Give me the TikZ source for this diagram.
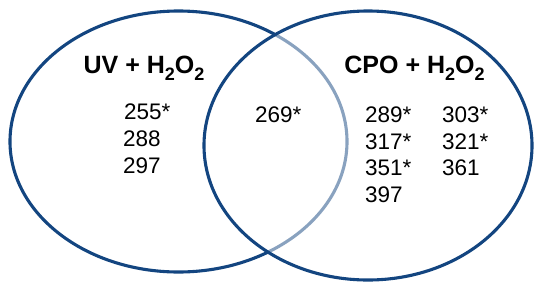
\documentclass[tikz,border=0pt]{standalone}
\usepackage{fontspec}
\setmainfont{Liberation Sans}
\usetikzlibrary{shapes.geometric}
\definecolor{vennblue}{HTML}{134580}
\newcommand{\lowsub}[1]{\raisebox{-0.28em}{\fontsize{0.72em}{0.72em}\selectfont #1}}
\tikzset{
  setring/.style={ellipse, draw=vennblue, line width=3.1bp, inner sep=0pt},
  title/.style={anchor=base, font=\fontsize{25bp}{25bp}\selectfont\bfseries, inner sep=0pt},
  num/.style={anchor=base west, font=\fontsize{22.5bp}{22.5bp}\selectfont, inner sep=0pt, align=left},
}
\begin{document}
\begin{tikzpicture}[x=1bp,y=-1bp]
\useasboundingbox (0,0) rectangle (550,285);
\node[setring, minimum width=337bp, minimum height=261bp] (uv) at (178.5,141.5) {};
\node[setring, fill=white, fill opacity=0.5, minimum width=328bp, minimum height=269bp] (cpo) at (368,145.5) {};
\node[title] (uvt) at (144,73) {UV + H\lowsub{2}O\lowsub{2}};
\node[title] (cpot) at (414.5,73) {CPO + H\lowsub{2}O\lowsub{2}};
\node[num] (a1) at (124,119.3) {255*};
\node[num] (a2) at (123,146.5) {288};
\node[num] (a3) at (123,173) {297};
\node[num] (b1) at (255,122.5) {269*};
\node[num] (c1) at (365,122.5) {289*};
\node[num] (c2) at (365,149) {317*};
\node[num] (c3) at (365,175.5) {351*};
\node[num] (c4) at (365,202) {397};
\node[num] (d1) at (442,122.5) {303*};
\node[num] (d2) at (442,149) {321*};
\node[num] (d3) at (442,175.5) {361};
\end{tikzpicture}
\end{document}
